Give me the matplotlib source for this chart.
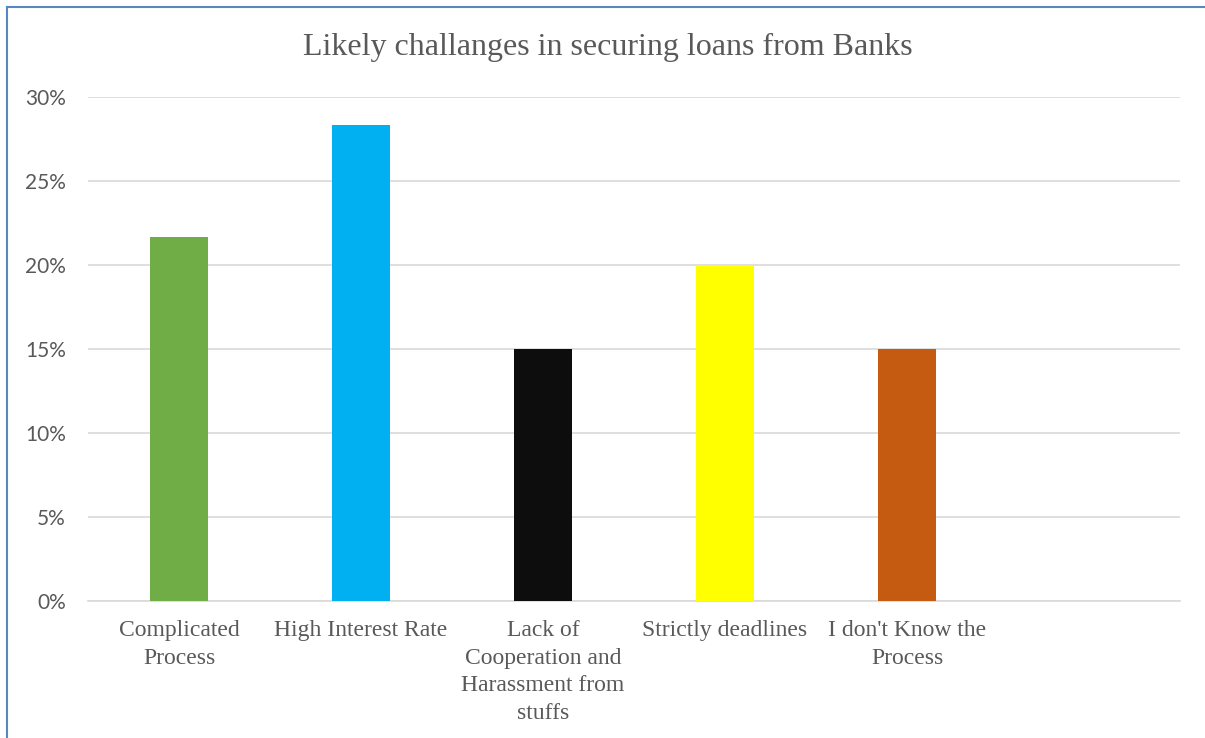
import matplotlib.pyplot as plt
from matplotlib.lines import Line2D
from matplotlib.ticker import FuncFormatter

# data
categories = ["Complicated\nProcess", "High Interest Rate",
              "Lack of\nCooperation and\nHarassment from\nstuffs",
              "Strictly deadlines", "I don't Know the\nProcess", ""]
values = [21.67, 28.33, 15.0, 20.0, 15.0, 0.0]
colors = ["#70AD47", "#00B0F0", "#0D0D0D", "#FFFF00", "#C55A11", "#FFFFFF"]
yticks = [0, 5, 10, 15, 20, 25, 30]

grey = "#595959"

fig = plt.figure(figsize=(12.05, 7.38), dpi=100)
ax = fig.add_axes([88 / 1205, 137 / 738, 1092 / 1205, 504 / 738])

x = range(len(categories))
ax.bar(x, values, width=0.315, color=colors, zorder=3)

ax.set_xlim(-0.5, len(categories) - 0.5)
ax.set_ylim(0, 30)
ax.set_yticks(yticks)
ax.yaxis.set_major_formatter(FuncFormatter(lambda v, p: f"{v:.0f}%"))
ax.grid(axis="y", color="#D9D9D9", linewidth=1.2, zorder=0)
for s in ["top", "right", "left"]:
    ax.spines[s].set_visible(False)
ax.spines["bottom"].set_color("#D9D9D9")
ax.spines["bottom"].set_linewidth(1.2)

ax.set_xticks(list(x))
ax.set_xticklabels(categories, fontfamily="Liberation Serif", fontsize=17,
                   color=grey, linespacing=1.4)
ax.tick_params(axis="x", length=0, pad=14)
ax.tick_params(axis="y", length=0, pad=16, labelsize=15, labelcolor=grey)
for lbl in ax.get_yticklabels():
    lbl.set_fontfamily("Lato")

fig.text(608 / 1205, 1 - 47 / 738, "Likely challanges in securing loans from Banks",
         ha="center", va="center", fontfamily="Liberation Serif",
         fontsize=23, color=grey)

# chart frame (only top and left edges visible in the crop)
border = "#5B87C0"
fig.add_artist(Line2D([6.5 / 1205, 6.5 / 1205], [0, 1 - 7 / 738],
                      transform=fig.transFigure, color=border, linewidth=1.5))
fig.add_artist(Line2D([6.5 / 1205, 1], [1 - 7 / 738, 1 - 7 / 738],
                      transform=fig.transFigure, color=border, linewidth=1.5))

fig.savefig("out.png", dpi=100)
